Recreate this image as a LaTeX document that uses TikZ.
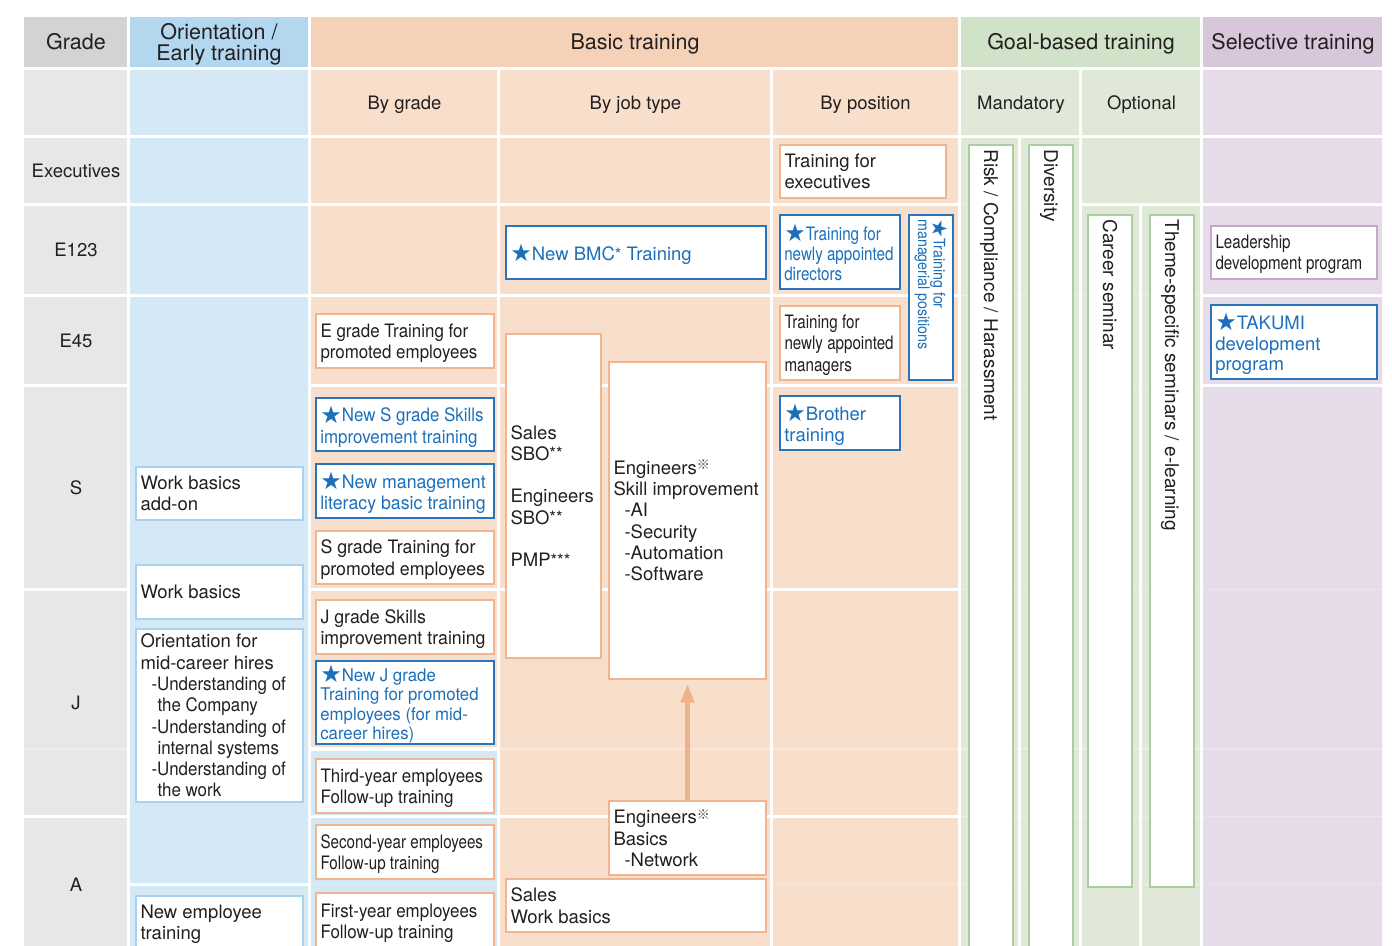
\documentclass[tikz,border=0pt]{standalone}
\usepackage{fontspec}
\setmainfont{TeX Gyre Heros}
\newfontfamily\starfont{DejaVu Sans}
\newfontfamily\cjkfont{Noto Sans CJK JP}
\newfontfamily\condA[FakeStretch=0.82]{TeX Gyre Heros}
\newfontfamily\condB[FakeStretch=0.89]{TeX Gyre Heros}
\newfontfamily\condC[FakeStretch=0.915]{TeX Gyre Heros}
\newfontfamily\condD[FakeStretch=0.96]{TeX Gyre Heros}
\usetikzlibrary{arrows.meta}

% palette
\definecolor{ink}{HTML}{231F20}
\definecolor{inkL}{HTML}{414042}
\definecolor{grayH}{HTML}{D1D3D4}
\definecolor{grayB}{HTML}{E6E7E8}
\definecolor{blueH}{HTML}{B2D7EF}
\definecolor{blueB}{HTML}{D5E8F5}
\definecolor{orH}{HTML}{F5D2B7}
\definecolor{orB}{HTML}{F8DFCC}
\definecolor{grH}{HTML}{D0E2C8}
\definecolor{grB}{HTML}{E0E9D8}
\definecolor{puH}{HTML}{D8C6DA}
\definecolor{puB}{HTML}{E6DBE8}
\definecolor{blueT}{HTML}{1C70BA}
\definecolor{blueLn}{HTML}{2A74BC}
\definecolor{orLn}{HTML}{F0B58E}
\definecolor{ltLn}{HTML}{A8D2F0}
\definecolor{grLn}{HTML}{ABCDA0}
\definecolor{puLn}{HTML}{C8A8CA}
\definecolor{arrowc}{HTML}{EFB38B}

% text helpers
\newcommand\fN{\fontsize{18.5}{21.3}\selectfont}
\newcommand\bstar{\lower1.2pt\hbox{\starfont\fontsize{24}{24}\selectfont ★}}
\newcommand\bstarS{\lower1pt\hbox{\starfont\fontsize{21}{21}\selectfont ★}}
\newcommand\supast[1]{\raise0.5pt\hbox{\fontsize{17}{17}\selectfont #1}}
\newcommand\refmk{\raise4.5pt\hbox{\cjkfont\fontsize{13}{13}\selectfont\color{inkL}※}}
% left-aligned stack of lines, separated by \\
\newcommand\mlines[1]{\vbox{\let\\\cr\tabskip=0pt\halign{##\hfil\cr#1\crcr}}}

\tikzset{
  obox/.style={draw=orLn, line width=1.4pt, fill=white, inner sep=0pt},
  bbox/.style={draw=blueLn, line width=1.8pt, fill=white, inner sep=0pt},
  lbox/.style={draw=ltLn, line width=1.4pt, fill=white, inner sep=0pt},
  gbox/.style={draw=grLn, line width=1.6pt, fill=white, inner sep=0pt},
  pbox/.style={draw=puLn, line width=1.4pt, fill=white, inner sep=0pt},
  btxt/.style={anchor=west, inner sep=0pt, text depth=0pt, text=ink, font=\fN},
  tA/.style={font=\condA\fN},
  tB/.style={font=\condB\fN},
  tC/.style={font=\condC\fN},
  tD/.style={font=\condD\fN},
  hdr/.style={inner sep=0pt, text=ink, font=\fontsize{21.5}{21.3}\selectfont,
              text height=15.4pt, text depth=0pt},
  lbl/.style={inner sep=0pt, text=ink, font=\fN, text height=13.3pt, text depth=0pt},
  vtxt/.style={rotate=-90, anchor=west, inner sep=0pt, text height=13.6pt,
               text depth=0pt, font=\fontsize{19}{21}\selectfont, text=ink},
  faint/.style={white, opacity=0.3, line width=1.2pt},
  upar/.style={arrowc, line width=5pt, -{Triangle[width=13pt,length=19pt]}},
}

% box with left-aligned, vertically centred text:
% name, x1, y1, x2, y2, box style, text style, lines
\newcommand\trbox[8]{%
  \node[#6, minimum width={#4-#2}, minimum height={#5-#3}] (#1)
    at ({(#2+#4)/2},{(#3+#5)/2}) {};
  \node[btxt, #7] (#1-t) at ([xshift=5pt]#1.west) {\mlines{#8}};}

\begin{document}
\begin{tikzpicture}[x=1pt, y=-1pt]
\useasboundingbox (0,0) rectangle (1392,945);
\fill[white] (0,0) rectangle (1392,945);
\begin{scope}
\clip (0,0) rectangle (1392,945);

% ---- header row
\fill[grayH] (24,17) rectangle (127,67);
\fill[blueH] (130,17) rectangle (308,67);
\fill[orH] (311,17) rectangle (958,67);
\fill[grH] (961,17) rectangle (1200,67);
\fill[puH] (1203,17) rectangle (1382,67);

% ---- sub-header row
\fill[grayB] (24,70) rectangle (127,135);
\fill[blueB] (130,70) rectangle (308,135);
\fill[orB] (311,70) rectangle (497,135) (500,70) rectangle (770,135)
           (773,70) rectangle (958,135);
\fill[grB] (961,70) rectangle (1079,135) (1082,70) rectangle (1200,135);
\fill[puB] (1203,70) rectangle (1382,135);

% ---- body cells
\foreach \a/\b in {138/203,206/294,297/384,387/588,591/815,818/950}{
  \fill[grayB] (24,\a) rectangle (127,\b);
  \fill[orB] (500,\a) rectangle (770,\b);
  \fill[orB] (773,\a) rectangle (958,\b);
}
\fill[blueB] (130,138) rectangle (308,203) (130,206) rectangle (308,294)
             (130,297) rectangle (308,883) (130,886) rectangle (308,950);
\foreach \a/\b in {138/203,206/294,297/384,387/588,591/747}{
  \fill[orB] (311,\a) rectangle (497,\b);
}
\fill[blueB] (311,751) rectangle (497,815) (311,818) rectangle (497,950);
\fill[grB] (961,138) rectangle (1018,950) (1021,138) rectangle (1079,950);
\fill[grB] (1082,138) rectangle (1200,203) (1082,206) rectangle (1139,950)
           (1142,206) rectangle (1200,950);
\fill[puB] (1203,138) rectangle (1382,203) (1203,206) rectangle (1382,294)
           (1203,297) rectangle (1382,384) (1203,387) rectangle (1382,950);

% ---- faint sub-row rules
\draw[faint] (24,749) -- (127,749);
\foreach \y in {749,884.5}{
  \draw[faint] (500,\y) -- (770,\y);
  \draw[faint] (773,\y) -- (958,\y);
}
\draw[faint] (311,884.5) -- (497,884.5);
\foreach \y in {204.5,295.5,385.5,589.5,749,816.5,884.5}{
  \draw[faint] (961,\y) -- (1018,\y);
  \draw[faint] (1021,\y) -- (1079,\y);
}
\foreach \y in {295.5,385.5,589.5,749,816.5,884.5}{
  \draw[faint] (1082,\y) -- (1139,\y);
  \draw[faint] (1142,\y) -- (1200,\y);
}
\foreach \y in {589.5,749,816.5,884.5}{
  \draw[faint] (1203,\y) -- (1382,\y);
}

% ---- header texts
\node[hdr] (hGrade) at (76,42) {Grade};
\node[inner sep=0pt, text=ink, align=center, font=\fontsize{21.5}{21.3}\selectfont]
  (hOri) at (219,44.6) {Orientation /\\Early training};
\node[hdr] (hBasic) at (635,42) {Basic training};
\node[hdr] (hGoal) at (1081,42) {Goal-based training};
\node[hdr] (hSel) at (1293,42) {Selective training};

\node[lbl] (sGrade) at (404.5,102.5) {By grade};
\node[lbl] (sJob) at (635.5,102.5) {By job type};
\node[lbl] (sPos) at (865.5,102.5) {By position};
\node[lbl] (sMan) at (1021,102.5) {Mandatory};
\node[lbl] (sOpt) at (1141.5,102.5) {Optional};

\node[lbl] (gExe) at (76,170.5) {Executives};
\node[lbl] (gE123) at (76,249.7) {E123};
\node[lbl] (gE45) at (76,340.5) {E45};
\node[lbl] (gS) at (76,488.3) {S};
\node[lbl] (gJ) at (76,703.3) {J};
\node[lbl] (gA) at (76,885) {A};

% ---- orientation / early training
\trbox{wba}{136}{467}{303}{520}{lbox}{}{Work basics\\add-on}
\trbox{wb}{136}{565}{303}{619}{lbox}{}{Work basics}
\trbox{omc}{136}{629}{303}{802}{lbox}{}{Orientation for\\mid-career hires\\
  \hspace*{11pt}{\condC -Understanding of}\\\hspace*{17pt}{\condC the Company}\\
  \hspace*{11pt}{\condC -Understanding of}\\\hspace*{17pt}{\condC internal systems}\\
  \hspace*{11pt}{\condC -Understanding of}\\\hspace*{17pt}{\condC the work}}
\trbox{net}{136}{896}{303}{949}{lbox}{}{New employee\\training}

% ---- basic training: by grade
\trbox{egp}{316}{314}{494}{368}{obox}{tC}{E grade Training for\\promoted employees}
\trbox{nss}{316}{398}{494}{451}{bbox}{tC,text=blueT}{\bstar New S grade Skills\\improvement training}
\trbox{nml}{316}{464}{494}{518}{bbox}{tD,text=blueT}{\bstar New management\\literacy basic training}
\trbox{sgp}{316}{531}{494}{584}{obox}{tD}{S grade Training for\\promoted employees}
\trbox{jgs}{316}{600}{494}{654}{obox}{tD}{J grade Skills\\improvement training}
\trbox{njg}{316}{661}{494}{744}{bbox}{text=blueT,font=\condD\fontsize{17.5}{19.2}\selectfont}%
  {\bstar New J grade\\Training for promoted\\employees (for mid-\\career hires)}
\trbox{tye}{316}{759}{494}{813}{obox}{tC}{Third-year employees\\Follow-up training}
\trbox{sye}{316}{825}{494}{879}{obox}{tA}{Second-year employees\\Follow-up training}
\trbox{fye}{316}{893}{494}{950}{obox}{tC}{First-year employees\\Follow-up training}

% ---- basic training: by job type
\trbox{bmc}{506}{226}{766}{279}{bbox}{text=blueT}{\bstar New BMC\supast{*} Training}
\trbox{sal}{506}{334}{601}{658}{obox}{}{Sales\\SBO\supast{**}\\\\Engineers\\SBO\supast{**}\\\\PMP\supast{***}}
\trbox{esk}{609}{362}{766}{679}{obox}{}{Engineers\refmk\\Skill improvement\\
  \hspace*{11pt}-AI\\\hspace*{11pt}-Security\\\hspace*{11pt}-Automation\\\hspace*{11pt}-Software}
\trbox{eba}{609}{801}{766}{875}{obox}{}{Engineers\refmk\\Basics\\\hspace*{11pt}-Network}
\trbox{swb}{506}{879}{766}{932}{obox}{}{Sales\\Work basics}
\draw[upar] (eba.north) -- ([yshift=-4pt]esk.south);

% ---- basic training: by position
\trbox{tfe}{780}{145}{946}{198}{obox}{}{Training for\\executives}
\trbox{tnd}{780}{215}{900}{289}{bbox}{text=blueT,font=\condA\fontsize{18.5}{20}\selectfont}%
  {\bstar Training for\\newly appointed\\directors}
\trbox{tnm}{780}{306}{900}{380}{obox}{tA}{Training for\\newly appointed\\managers}
\trbox{bro}{780}{396}{900}{450}{bbox}{text=blueT}{\bstar Brother\\training}
\node[bbox, minimum width=44, minimum height=165] (tmp) at (931,297.5) {};
\node[rotate=-90, anchor=north west, inner sep=0pt, text depth=0pt, text=blueT,
      font=\condB\fontsize{16}{15.5}\selectfont] (tmp-t)
  at ([xshift=-6pt,yshift=-5pt]tmp.north east)
  {\mlines{\bstarS Training for\\managerial positions}};

% ---- goal-based training
\node[gbox, minimum width=44, minimum height=805] (risk) at (991,547.5) {};
\node[gbox, minimum width=44, minimum height=805] (div) at (1051,547.5) {};
\node[gbox, minimum width=44, minimum height=672] (car) at (1110,551) {};
\node[gbox, minimum width=44, minimum height=672] (thm) at (1172,551) {};
\node[vtxt] (risk-t) at ([yshift=-5pt]risk.north) {Risk / Compliance / Harassment};
\node[vtxt] (div-t) at ([yshift=-5pt]div.north) {Diversity};
\node[vtxt] (car-t) at ([yshift=-5pt]car.north) {Career seminar};
\node[vtxt] (thm-t) at ([yshift=-5pt]thm.north) {Theme-specific seminars / e-learning};

% ---- selective training
\trbox{ldp}{1211}{226}{1377}{279}{pbox}{tA}{Leadership\\development program}
\trbox{tak}{1211}{305}{1377}{379}{bbox}{text=blueT,font=\fontsize{18.5}{20.5}\selectfont}%
  {\bstar TAKUMI\\development\\program}

\end{scope}
\end{tikzpicture}
\end{document}
